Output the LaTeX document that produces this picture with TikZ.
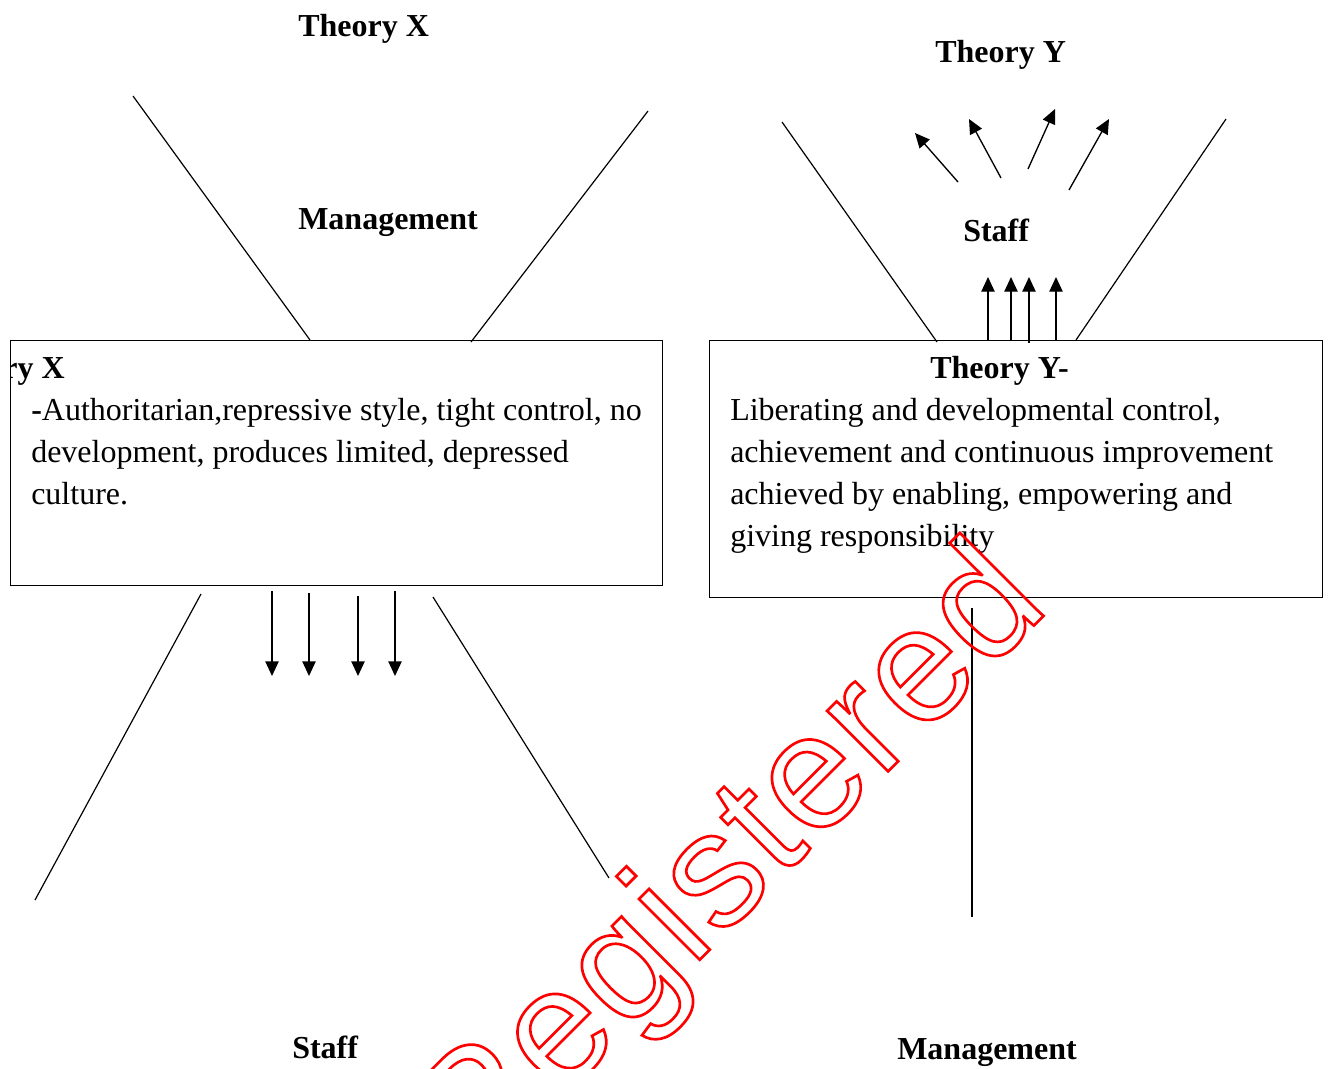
\documentclass[tikz,border=0pt]{standalone}
\usepackage{fontspec}
\setmainfont{Liberation Serif}
\newfontfamily\wmfont[LetterSpace=2]{Liberation Sans}
\usetikzlibrary{arrows.meta}

\newcommand{\basesize}{\fontsize{24}{31.5}\selectfont}
\newcommand{\outlined}[1]{\special{pdf:literal direct 1 Tr 2 w}#1\special{pdf:literal direct 0 Tr}}

\tikzset{
  thinline/.style={line width=0.9pt},
  frame/.style={draw, line width=1.1pt, inner sep=0pt, anchor=north west},
  flow/.style={line width=1pt, -{Triangle[length=11pt,width=10pt]}},
  title/.style={font=\basesize\bfseries, inner sep=0pt},
  body/.style={font=\basesize, align=left, inner sep=0pt},
}

\begin{document}
\begin{tikzpicture}[x=0.75pt,y=0.75pt,yscale=-1,xscale=1]
\useasboundingbox (0,0) rectangle (1328,1068);

% Theory X side
\node[title, anchor=base west] (titleX) at (298,36) {Theory X};
\node[title, anchor=base west] (mgmtX) at (298,229) {Management};
\draw[thinline] (133,96) -- (310,340);
\draw[thinline] (648,111) -- (471,342);

\node[frame, minimum width=489pt, minimum height=183.75pt] (boxX) at (10,340) {};
\begin{scope}
  \clip (11,341) rectangle (661,584);
  \node[title, anchor=base east] (headX) at (65,378) {Theory X};
\end{scope}
% base anchor sits on the last line
\node[body, anchor=base west] (textX) at (31,504)
  {\textbf{-}Authoritarian,repressive style, tight control, no\\
   development, produces limited, depressed\\
   culture.};

\foreach \x/\y in {272/591, 309/593, 358/596, 395/591}
  \draw[flow] (\x,\y) -- (\x,676);
\draw[thinline] (201,594) -- (35,900);
\draw[thinline] (433,597) -- (609,878);
\node[title, anchor=base west] (staffX) at (292,1058) {Staff};

% Theory Y side
\node[title, anchor=base west] (titleY) at (935,62) {Theory Y};
\draw[flow] (958,182) -- (915,133);
\draw[flow] (1001,178) -- (969,119);
\draw[flow] (1028,169) -- (1055,109);
\draw[flow] (1069,190) -- (1109,119);
\node[title, anchor=base west] (staffY) at (963,241) {Staff};
\draw[thinline] (782,122) -- (937,342);
\draw[thinline] (1226,119) -- (1076,340);
\foreach \x/\y in {988/340, 1011/340, 1029/343, 1056/340}
  \draw[flow] (\x,\y) -- (\x,277);

\node[frame, minimum width=459.75pt, minimum height=192.75pt] (boxY) at (709,340) {};
\node[title, anchor=base west] (headY) at (930,378) {Theory Y-};
\node[body, anchor=base west] (textY) at (730,546)
  {Liberating and developmental control,\\
   achievement and continuous improvement\\
   achieved by enabling, empowering and\\
   giving responsibility};

\draw[thinline] (972,608) -- (972,917);
\node[title, anchor=base west] (mgmtY) at (897,1059) {Management};

% watermark
\node[rotate=45, text=red, inner sep=0pt, font=\wmfont\fontsize{122}{122}\selectfont] (stamp) at (733,867) {\outlined{Registered}};
\end{tikzpicture}
\end{document}
